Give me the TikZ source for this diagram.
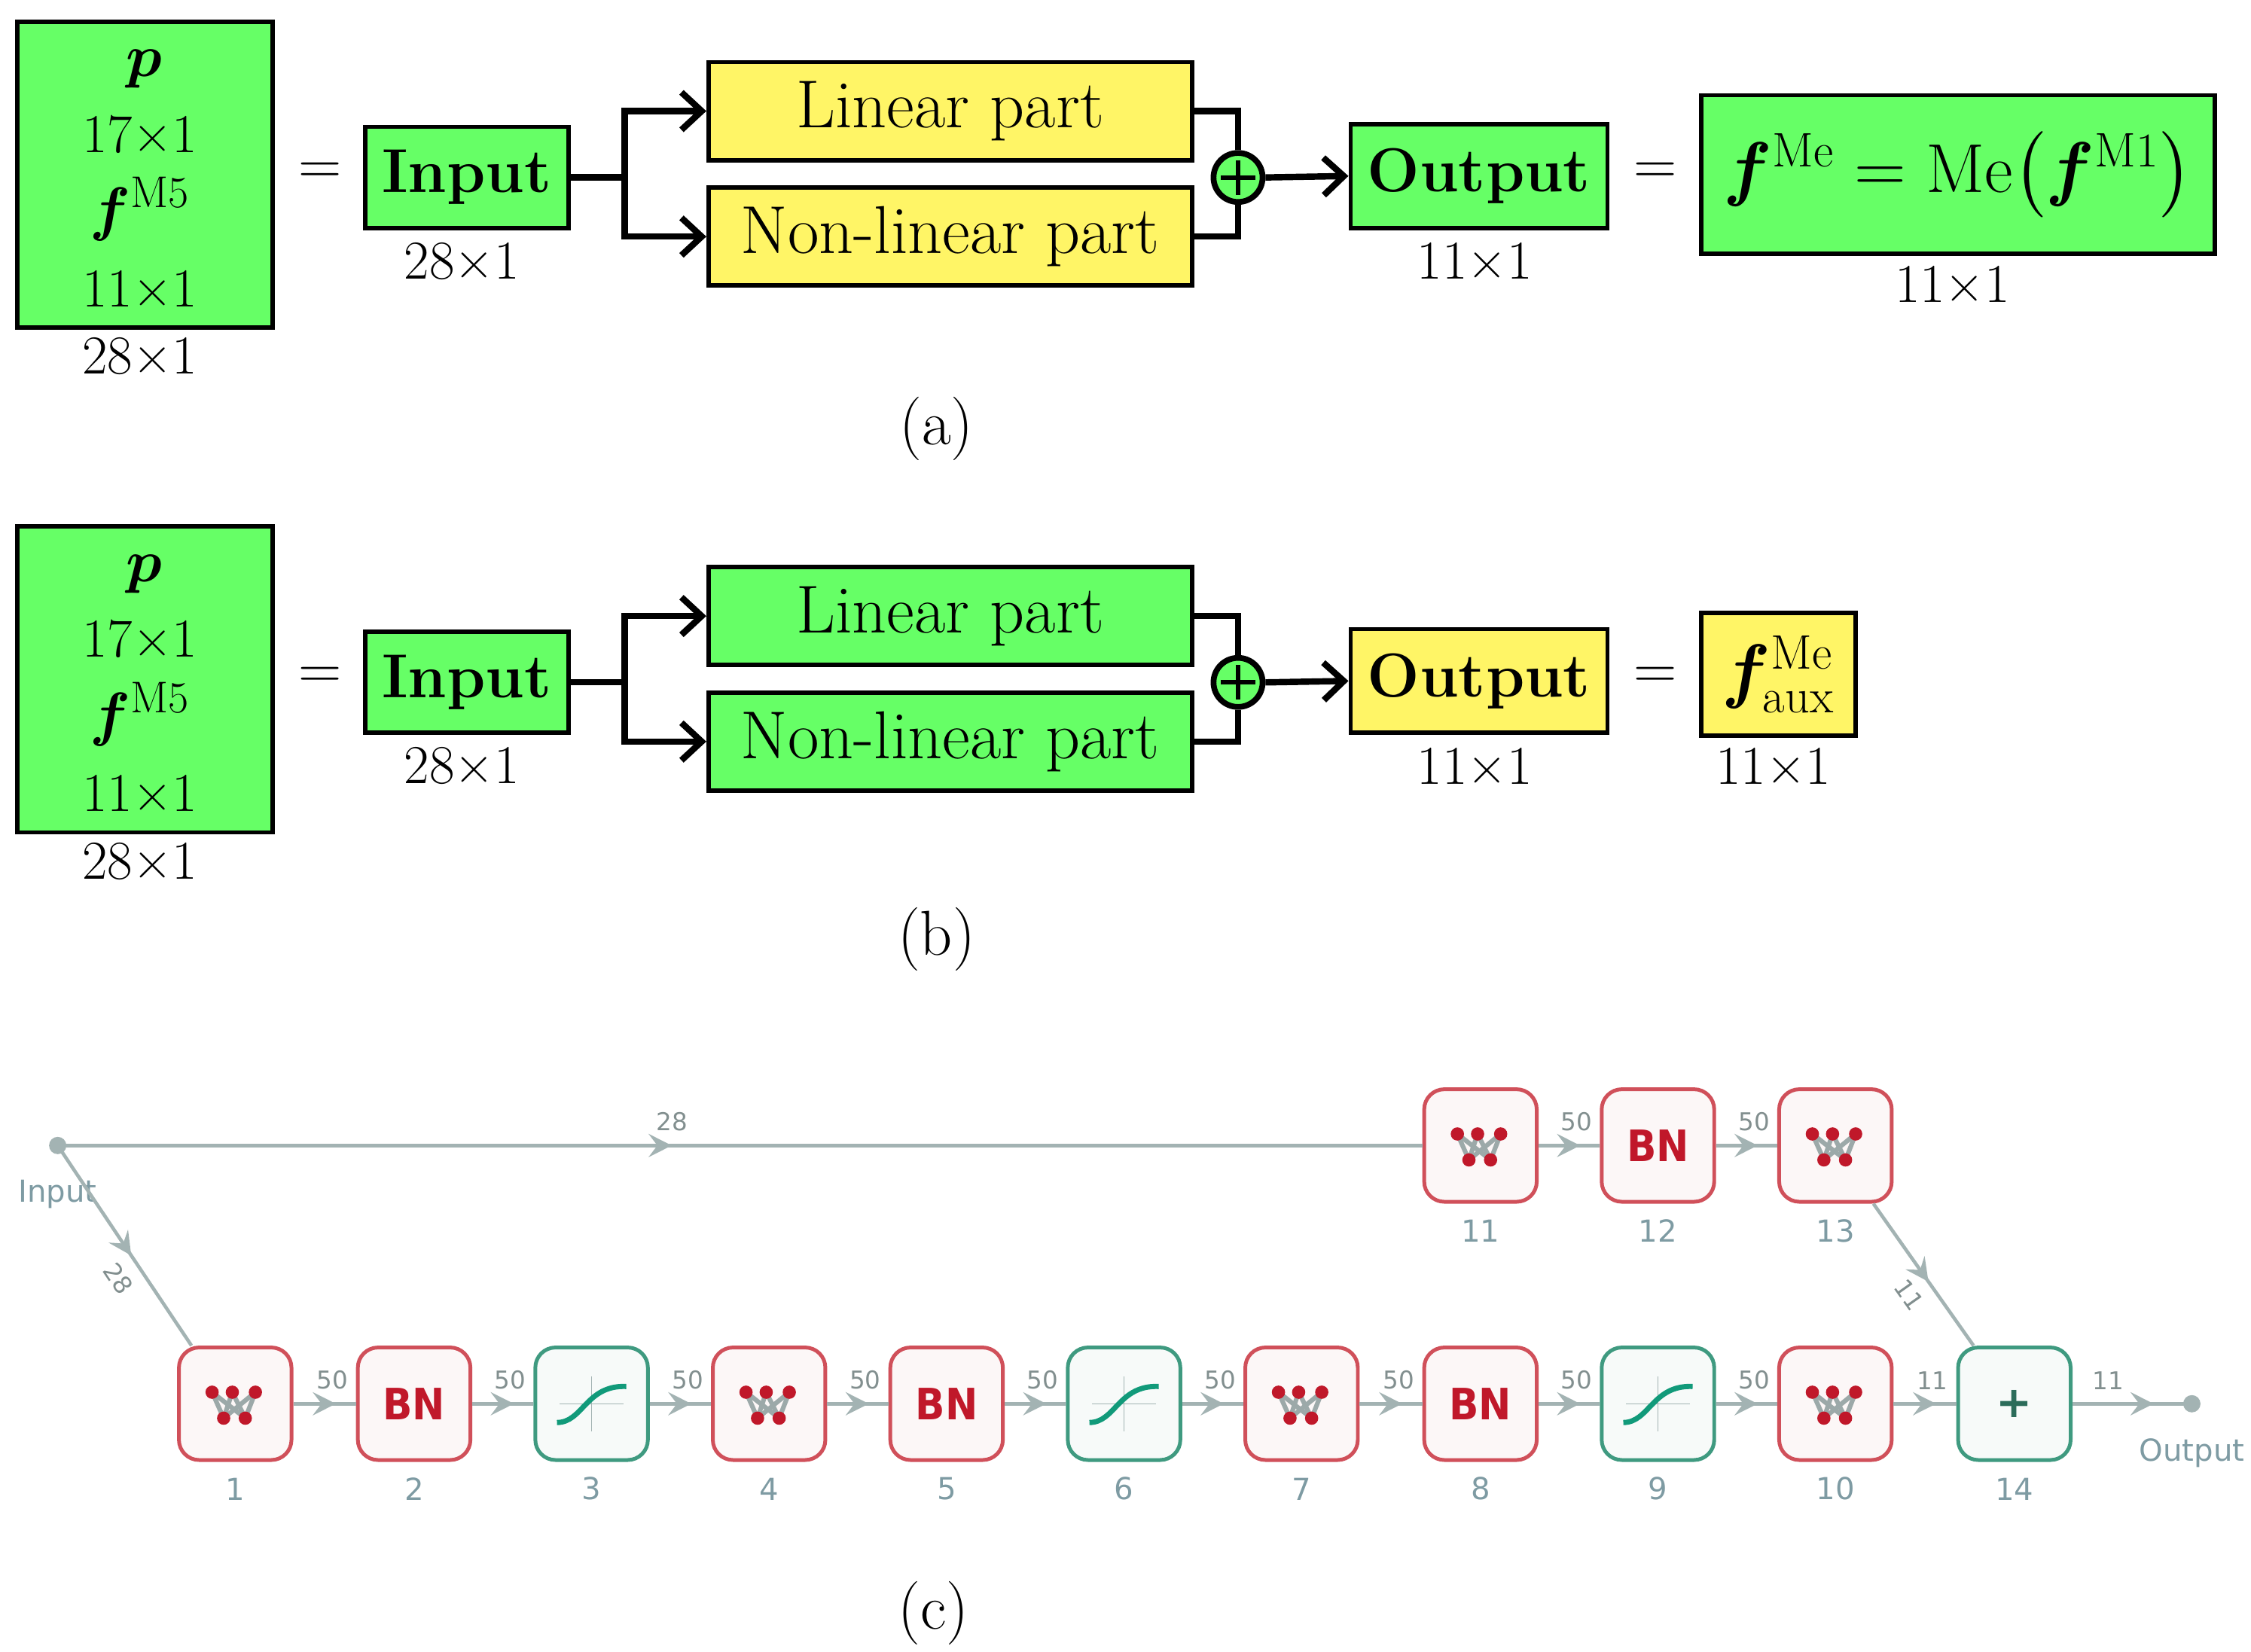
\documentclass[tikz,border=0pt]{standalone}
\usepackage{amsmath,bm}
\usepackage{fontspec}
\newfontfamily\sansf{DejaVu Sans}
\newfontfamily\sanscond{DejaVu Sans Condensed}
\usetikzlibrary{arrows.meta,decorations.markings,calc}
\definecolor{boxg}{HTML}{66FF66}
\definecolor{boxy}{HTML}{FFF566}
\definecolor{rb}{HTML}{D0505A}
\definecolor{rf}{HTML}{FCF7F7}
\definecolor{rd}{HTML}{C0182A}
\definecolor{gb}{HTML}{3F9A80}
\definecolor{gf}{HTML}{F7FAF9}
\definecolor{gc}{HTML}{119A7A}
\definecolor{ed}{HTML}{A3B3B3}
\definecolor{lb}{HTML}{7E9BA3}
\begin{document}
\begin{tikzpicture}[x=0.5pt,y=-0.5pt,
 blk/.style={draw=black,line width=1.5pt,inner sep=0pt},
 big/.style={font=\fontsize{22}{24}\selectfont},
 part/.style={font=\fontsize{23.5}{26}\selectfont},
 dim/.style={font=\fontsize{19}{22}\selectfont},
 bold/.style={font=\fontsize{21.5}{26}\selectfont\bfseries},
 conn/.style={line width=2.2pt,-{Straight Barb[length=7pt,width=13pt,line width=2.2pt]}},
 lin/.style={line width=2.2pt},
 rbox/.style={draw=rb,fill=rf,line width=1.3pt,rounded corners=7pt,minimum size=39pt,inner sep=0pt},
 gbox/.style={draw=gb,fill=gf,line width=1.3pt,rounded corners=7pt,minimum size=39pt,inner sep=0pt},
 num/.style={text=lb,font=\sansf\fontsize{10.5}{12}\selectfont},
 el/.style={text=ed!80!black,font=\sansf\fontsize{8.5}{10}\selectfont},
 edge/.style={draw=ed,line width=1.2pt,postaction={decorate},decoration={markings,mark=at position #1 with {\arrow{Stealth[length=8pt,width=8pt,inset=3pt,color=ed]}}}},
 edge/.default=0.68]
\useasboundingbox (0,0) rectangle (1560,1145);
% ---------- panels (a) and (b)
\foreach \dy/\lc/\oc/\pn in {0/boxy/boxg/a,350/boxg/boxy/b}{
 \begin{scope}[yshift=-\dy*0.5pt]
 \node[blk,fill=boxg,minimum width=88.5pt,minimum height=106pt] (L\pn) at (100.5,121) {};
 \node[big] (p\pn) at (100,48) {$\bm{p}$};
 \node[dim] (d1\pn) at (97,93) {17×1};
 \node[big] (f\pn) at (97,145) {$\bm{f}^{\mathrm{M5}}$};
 \node[dim] (d2\pn) at (97,200) {11×1};
 \node[dim] (d3\pn) at (97,247) {28×1};
 \node[big] (e1\pn) at (222,120) {$=$};
 \node[blk,fill=boxg,minimum width=70.5pt,minimum height=35pt] (I\pn) at (323.5,123) {};
 \node[bold] at (I\pn) {Input};
 \node[dim] (d4\pn) at (320,181) {28×1};
 \node[blk,fill=\lc,minimum width=167.5pt,minimum height=34pt] (A\pn) at (658.5,77) {};
 \node[part] at (A\pn) {Linear part};
 \node[blk,fill=\lc,minimum width=167.5pt,minimum height=34pt] (B\pn) at (658.5,164) {};
 \node[part] at (B\pn) {Non-linear part};
 \node[circle,draw=black,line width=2pt,fill=boxg,minimum size=17pt,inner sep=0pt] (S\pn) at (858,123) {};
 \draw[line width=1.5pt] ([yshift=6pt]S\pn.center)--([yshift=-6pt]S\pn.center) ([xshift=-6pt]S\pn.center)--([xshift=6pt]S\pn.center);
 \node[blk,fill=\oc,minimum width=89pt,minimum height=36pt] (O\pn) at (1025,122) {};
 \node[bold] at (O\pn) {Output};
 \node[dim] (d5\pn) at (1022,181) {11×1};
 \node[big] (e2\pn) at (1147,120) {$=$};
 \coordinate (J\pn) at (433,123);
 \draw[lin] (I\pn.east)--(J\pn);
 \draw[conn] (J\pn) |- (A\pn.west);
 \draw[conn] (J\pn) |- (B\pn.west);
 \draw[lin] (A\pn.east) -| (S\pn.north);
 \draw[lin] (B\pn.east) -| (S\pn.south);
 \draw[conn] (S\pn.east)--(O\pn.west);
 \end{scope}}
\node[blk,fill=boxg,minimum width=178pt,minimum height=55pt] (Ra) at (1357,121) {};
\node[font=\fontsize{24}{28}\selectfont] at (Ra) {$\bm{f}^{\mathrm{Me}}=\mathrm{Me}\bigl(\bm{f}^{\mathrm{M1}}\bigr)$};
\node[dim] (ra) at (1353,197) {11×1};
\node[big] (ca) at (649,297) {(a)};
\node[blk,fill=boxy,minimum width=53.5pt,minimum height=42.5pt] (Rb) at (1232.5,467.5) {};
\node[font=\fontsize{24}{28}\selectfont] at (Rb) {$\bm{f}^{\mathrm{Me}}_{\mathrm{aux}}$};
\node[dim] (rb) at (1229,531) {11×1};
\node[big] (cb) at (649,651) {(b)};
% ---------- panel (c)
\newcommand\fcicon[1]{%
 \foreach \t in {-16,-2,14}{\foreach \b in {-8,7}{\draw[ed!80!gray,line width=1.6pt] ($(#1)+(\t,-8)$)--($(#1)+(\b,10)$);}}
 \foreach \t in {-16,-2,14}{\fill[rd] ($(#1)+(\t,-8)$) circle (2.3pt);}
 \foreach \b in {-8,7}{\fill[rd] ($(#1)+(\b,10)$) circle (2.3pt);}}
\newcommand\sigicon[1]{%
 \draw[ed,line width=0.4pt] ($(#1)+(-22,0)$)--($(#1)+(22,0)$) ($(#1)+(0,-19)$)--($(#1)+(0,19)$);
 \draw[gc,line width=1.8pt] ($(#1)+(-24,13)$) .. controls ($(#1)+(-6,13)$) and ($(#1)+(-4,-13)$) .. ($(#1)+(24,-12)$);}
\foreach \i/\x/\y/\k in {1/163/973/f,2/287/973/b,3/410/973/s,4/533/973/f,5/656/973/b,6/779/973/s,7/902/973/f,8/1026/973/b,9/1149/973/s,10/1272/973/f,11/1026/794/f,12/1149/794/b,13/1272/794/f}{
 \if\k s \node[gbox] (n\i) at (\x,\y) {}; \else \node[rbox] (n\i) at (\x,\y) {}; \fi
 \node[num] (m\i) at (\x,\y+59) {\i};
}
\foreach \i in {1,4,7,10,11,13}{\fcicon{n\i}}
\foreach \i in {3,6,9}{\sigicon{n\i}}
\foreach \i in {2,5,8,12}{\node[text=rd,font=\sanscond\bfseries\fontsize{15}{16}\selectfont] at (n\i) {BN};}
\node[gbox] (n14) at (1396,973) {};
\node[text=gb!70!black,font=\sansf\bfseries\fontsize{15}{16}\selectfont] at (n14) {+};
\node[num] (m14) at (1396,1032) {14};
\coordinate (in) at (40,794);
\coordinate (out) at (1519,973);
\fill[ed] (in) circle (3pt);
\fill[ed] (out) circle (3pt);
\node[num] (tin) at (40,828) {Input};
\node[num] (tout) at (1519,1007) {Output};
\foreach \a/\b in {1/2,2/3,3/4,4/5,5/6,6/7,7/8,8/9,9/10,11/12,12/13}{
 \draw[edge] (n\a)--(n\b) node[el,pos=0.62,above=1pt] {50};}
\draw[edge] (n10)--(n14) node[el,pos=0.62,above=1pt] {11};
\draw[edge] (n14)--(out) node[el,pos=0.3,above=1pt] {11};
\draw[edge=0.45] (in)--(n11) node[el,pos=0.45,above=1pt] {28};
\draw[edge=0.55] (in)--([xshift=5pt]n1.north west) node[el,pos=0.6,sloped,below=1pt] {28};
\draw[edge=0.55] ([xshift=-7pt]n13.south east)--([xshift=6pt]n14.north west) node[el,pos=0.55,sloped,below=1pt] {11};
\node[big] (cc) at (647,1118) {(c)};
\end{tikzpicture}
\end{document}
